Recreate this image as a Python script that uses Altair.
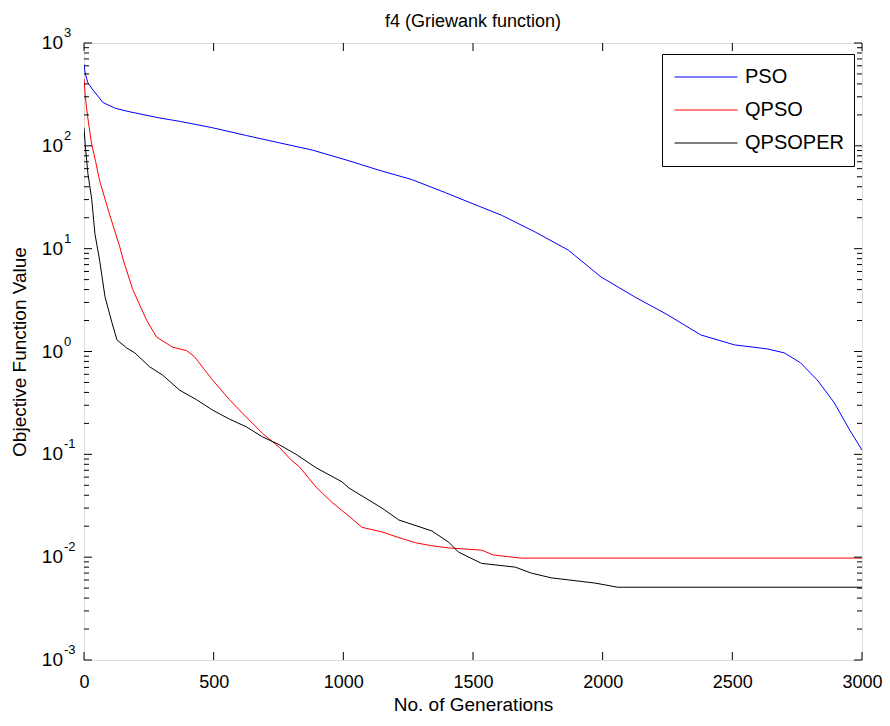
import altair as alt
import pandas as pd

FONT = "Liberation Sans"

series_names = ["PSO", "QPSO", "QPSOPER"]
series_colors = ["#0000ff", "#ff0000", "#000000"]

pso_gen = [0, 5, 15, 35, 73, 120, 177, 290, 369, 495, 626, 753, 880, 1010, 1137, 1264, 1394,
           1521, 1609, 1740, 1867, 1994, 2124, 2251, 2378, 2508, 2635, 2700, 2762, 2827, 2892, 2954, 3000]
pso_val = [620, 500, 410, 348, 264, 232, 214, 187, 173, 150, 126, 107, 91, 73, 58, 47, 35,
           26, 21.2, 14.5, 9.7, 5.3, 3.39, 2.27, 1.45, 1.16, 1.06, 0.97, 0.78, 0.53, 0.32, 0.17, 0.11]

qpso_gen = [0, 4, 10, 17, 29, 45, 61, 100, 138, 151, 188, 242, 280, 342, 396, 426, 495, 561, 626,
            688, 753, 799, 830, 895, 957, 1022, 1072, 1149, 1214, 1279, 1341, 1406, 1533, 1579, 1682, 3000]
qpso_val = [450, 330, 230, 170, 106, 70, 45, 21, 10.4, 7.8, 4.0, 2.0, 1.38, 1.1, 1.02, 0.89, 0.53, 0.34, 0.23,
            0.16, 0.117, 0.088, 0.076, 0.048, 0.034, 0.025, 0.0195, 0.0176, 0.0155, 0.0138, 0.0129, 0.0123,
            0.0117, 0.0105, 0.0098, 0.0098]

qpsoper_gen = [0, 5, 15, 30, 42, 61, 81, 108, 127, 165, 196, 253, 303, 369, 434, 495, 561, 626, 688,
               753, 818, 895, 995, 1022, 1149, 1214, 1341, 1406, 1444, 1533, 1663, 1725, 1801, 1970, 2059, 3000]
qpsoper_val = [150, 100, 54, 30, 14, 7.5, 3.4, 1.9, 1.3, 1.08, 0.97, 0.71, 0.59, 0.42, 0.34, 0.27, 0.22, 0.185,
               0.148, 0.124, 0.100, 0.074, 0.054, 0.047, 0.030, 0.023, 0.018, 0.014, 0.0112, 0.0087, 0.0080,
               0.0070, 0.0063, 0.0056, 0.0051, 0.0051]

x_tick_values = [0, 500, 1000, 1500, 2000, 2500, 3000]
y_exponents = [-3, -2, -1, 0, 1, 2, 3]
y_minor_mult = [2, 3, 4, 5, 6, 7, 8, 9]

rows = []
for name, gens, vals in [("PSO", pso_gen, pso_val), ("QPSO", qpso_gen, qpso_val),
                         ("QPSOPER", qpsoper_gen, qpsoper_val)]:
    for g, v in zip(gens, vals):
        rows.append({"gen": g, "value": v, "series": name})
df = pd.DataFrame(rows)

major_df = pd.DataFrame({"value": [10.0 ** e for e in y_exponents],
                         "exp": [str(e) for e in y_exponents]})
minor_df = pd.DataFrame({"value": [m * 10.0 ** e for e in y_exponents[:-1] for m in y_minor_mult]})
xt_df = pd.DataFrame({"gen": x_tick_values})

W, H = 778, 617
x_scale = alt.Scale(domain=[0, 3000], nice=False)
y_scale = alt.Scale(type="log", domain=[1e-3, 1e3], nice=False)

x_axis = alt.Axis(values=x_tick_values, format="d", labelFontSize=18, labelFont=FONT,
                  labelColor="black", labelPadding=13, labelFlush=False, labelOverlap=False,
                  ticks=False, domain=False, grid=False,
                  title="No. of Generations", titleFont=FONT, titleFontSize=19,
                  titleFontWeight="normal", titleColor="black", titlePadding=4)
y_axis = alt.Axis(values=[10.0 ** e for e in y_exponents], labels=False, ticks=False, domain=False,
                  grid=False, title="Objective Function Value", titleFont=FONT, titleFontSize=19,
                  titleFontWeight="normal", titleColor="black", titlePadding=55)

X = alt.X("gen:Q", scale=x_scale, axis=x_axis)
Y = alt.Y("value:Q", scale=y_scale, axis=y_axis)

lines = alt.Chart(df).mark_line(strokeWidth=1, clip=True).encode(
    x=X, y=Y,
    color=alt.Color("series:N", scale=alt.Scale(domain=series_names, range=series_colors),
                    legend=alt.Legend(title=None, orient="none", legendX=578, legendY=11,
                                      symbolType="stroke", symbolSize=3969, symbolStrokeWidth=1,
                                      clipHeight=26, rowPadding=7, padding=10, symbolOffset=2,
                                      labelOffset=7, labelFont=FONT, labelFontSize=20,
                                      labelColor="black", strokeColor="black", fillColor="white")),
)

def yrule(data, x0, x1):
    return alt.Chart(data).mark_rule(color="black", strokeWidth=1).encode(
        y=Y, x=alt.value(x0), x2=alt.value(x1))

def xrule(y0, y1):
    return alt.Chart(xt_df).mark_rule(color="black", strokeWidth=1).encode(
        x=X, y=alt.value(y0), y2=alt.value(y1))

ticks = [yrule(major_df, 0, 8), yrule(major_df, W - 8, W),
         yrule(minor_df, 0, 5), yrule(minor_df, W - 5, W),
         xrule(H, H - 8), xrule(0, 8)]

ten = alt.Chart(major_df).mark_text(align="right", baseline="middle", fontSize=19, font=FONT,
                                    color="black").encode(
    y=Y, x=alt.value(-21), text=alt.value("10"))
expo = alt.Chart(major_df).mark_text(align="left", baseline="middle", fontSize=13, font=FONT,
                                     color="black", dy=-10).encode(
    y=Y, x=alt.value(-20), text="exp:N")

chart = alt.layer(lines, *ticks, ten, expo).properties(
    width=W, height=H,
    title=alt.TitleParams("f4 (Griewank function)", font=FONT, fontSize=18, fontWeight="normal",
                          color="black", offset=-4),
    padding={"left": 76, "top": 35, "right": 20, "bottom": 58},
    autosize=alt.AutoSizeParams(type="none"),
).configure_view(stroke="black", strokeWidth=1).configure(background="white")

chart.save("out.html", embed_options={"renderer": "svg", "actions": False})
